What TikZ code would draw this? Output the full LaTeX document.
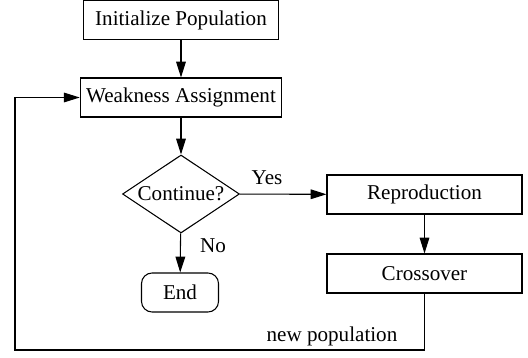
\documentclass[tikz,border=0pt]{standalone}
\usepackage{fontspec}
\setmainfont{Liberation Serif}
\usepackage{tikz}
\usetikzlibrary{arrows.meta, positioning, shapes.geometric, calc}

\begin{document}
\begin{tikzpicture}[
  procbox/.style={rectangle, draw=black, line width=0.6pt,
                  minimum width=3.9cm, minimum height=0.78cm,
                  font=\fontsize{12}{14}\selectfont, align=center},
  endbox/.style={rectangle, rounded corners=6pt, draw=black, line width=0.6pt,
                 minimum width=1.54cm, minimum height=0.78cm,
                 font=\fontsize{12}{14}\selectfont},
  decbox/.style={diamond, aspect=1.5, inner sep=0pt, draw=black, line width=0.6pt,
                 minimum width=2.34cm, minimum height=1.56cm,
                 font=\fontsize{12}{14}\selectfont},
  lbl/.style={font=\fontsize{12}{14}\selectfont, inner sep=1pt},
  conn/.style={-{Triangle[length=9pt, width=5.5pt]}, line width=0.6pt, draw=black}
]
\useasboundingbox (0,0) rectangle (10.56,-7.16);

\node[procbox] (init)  at (3.62,-0.40) {Initialize Population};
\node[procbox] (weak)  at (3.62,-1.95) {Weakness Assignment};
\node[decbox]  (cont)  at (3.62,-3.88) {Continue?};
\node[procbox] (repro) at (8.49,-3.89) {Reproduction};
\node[procbox] (cross) at (8.49,-5.47) {Crossover};
\node[endbox]  (stop)  at (3.60,-5.85) {End};

\node[lbl] (yes)    at (5.34,-3.56) {Yes};
\node[lbl] (no)     at (4.26,-4.92) {No};
\node[lbl] (newpop) at (6.64,-6.72) {new population};

\coordinate (loop) at (0.30,-7.00);

\draw[conn] (init) -- (weak);
\draw[conn] (weak) -- (cont);
\draw[conn] (cont) -- (repro);
\draw[conn] (repro) -- (cross);
\draw[conn] (cont) -- (stop);
\draw[conn] (cross.south) |- (loop) |- (weak.west);
\end{tikzpicture}
\end{document}
